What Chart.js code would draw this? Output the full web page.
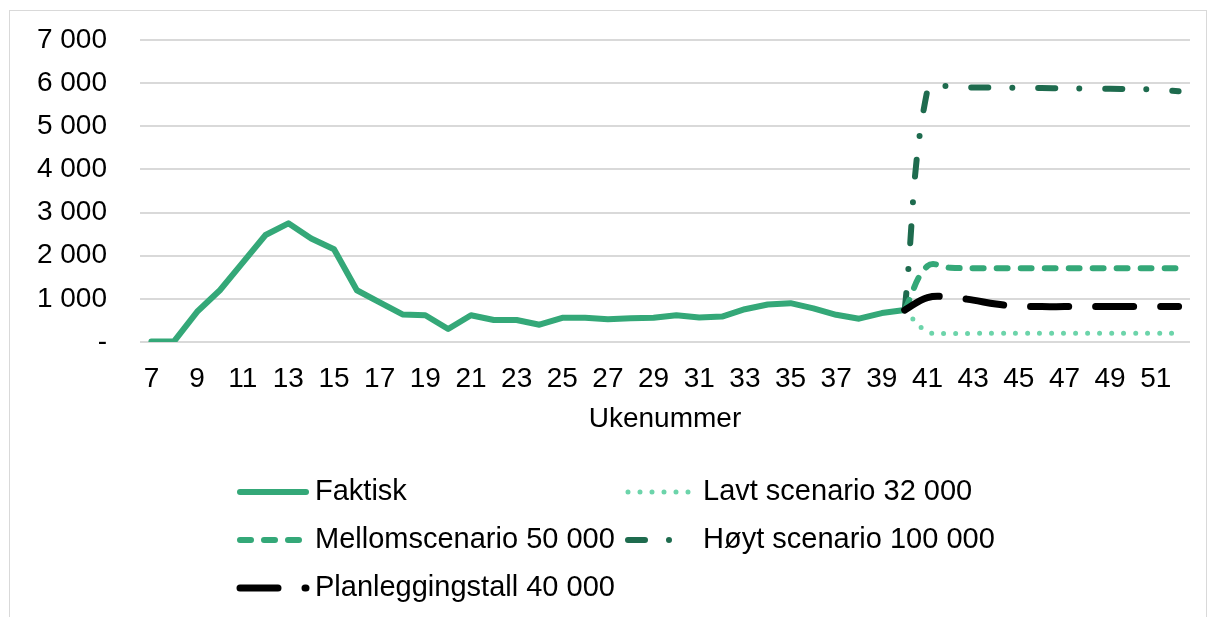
<!DOCTYPE html>
<html>
<head>
<meta charset="utf-8">
<script src="https://cdn.jsdelivr.net/npm/chart.js@4"></script>
<style>
  html, body { margin: 0; padding: 0; background: #fff; }
  #frame { position: absolute; left: 9px; top: 10px; width: 1198px; height: 620px; border: 1.5px solid #d9d9d9; box-sizing: border-box; }
  #wrap { position: absolute; left: 0; top: 0; width: 1210px; height: 617px; }
</style>
</head>
<body>
<div id="frame"></div>
<div id="wrap"><canvas id="chart" width="1210" height="617"></canvas></div>
<script>
// uke 7 - 52
const weeks = ["7","8","9","10","11","12","13","14","15","16","17","18","19","20","21","22","23","24","25","26","27","28","29","30","31","32","33","34","35","36","37","38","39","40","41","42","43","44","45","46","47","48","49","50","51","52"];

// faktisk, uke 7-40
const faktisk = [10, 20, 700, 1200, 1840, 2480, 2750, 2400, 2150, 1200, 920, 640, 620, 300, 620, 510, 510, 400, 560, 560, 530, 550, 560, 620, 570, 590, 760, 870, 900, 780, 630, 540, 670, 740];

// scenarier, uke 40-52
const lavt = [740, 240, 200, 200, 200, 200, 200, 200, 200, 200, 200, 200, 200];
const mellom = [740, 1760, 1720, 1710, 1710, 1710, 1710, 1710, 1710, 1710, 1710, 1710, 1710];
const hoyt = [740, 5850, 5930, 5900, 5900, 5890, 5885, 5880, 5875, 5870, 5860, 5850, 5810];
const planlegging = [740, 1030, 1040, 970, 880, 830, 820, 820, 820, 820, 820, 820, 820];

const yTicks = [0, 1000, 2000, 3000, 4000, 5000, 6000, 7000];

const FONT = "'Liberation Sans', Arial, sans-serif";

// fyll ut med null slik at seriene havner på riktig uke
const padStart = (arr) => Array(weeks.length - arr.length).fill(null).concat(arr);
const padEnd = (arr) => arr.concat(Array(weeks.length - arr.length).fill(null));

const fmt = (v) => v === 0 ? "-" : v.toLocaleString("nb-NO").replace(/\s/g, " ");

// egen legende i to kolonner, tegnet med datasettenes linjestil
const legendSlots = [[240, 492], [628, 492], [240, 540], [628, 540], [240, 588]];
const legendPlugin = {
  id: "gridLegend",
  afterDraw(chart) {
    const ctx = chart.ctx;
    chart.data.datasets.forEach((ds, i) => {
      const [x, y] = legendSlots[i];
      ctx.save();
      ctx.strokeStyle = ds.borderColor;
      ctx.lineWidth = ds.borderWidth;
      ctx.lineCap = "round";
      ctx.setLineDash(ds.borderDash || []);
      ctx.beginPath();
      ctx.moveTo(x, y);
      ctx.lineTo(x + 66, y);
      ctx.stroke();
      ctx.restore();
      ctx.save();
      ctx.fillStyle = "#000";
      ctx.font = "29px " + FONT;
      ctx.textBaseline = "middle";
      ctx.fillText(ds.label, x + 75, y);
      ctx.restore();
    });
  }
};

const ctx = document.getElementById("chart").getContext("2d");
new Chart(ctx, {
  type: "line",
  data: {
    labels: weeks,
    datasets: [
      { label: "Faktisk", data: padEnd(faktisk), borderColor: "#34A878", borderWidth: 6, tension: 0, order: 1 },
      { label: "Lavt scenario 32 000", data: padStart(lavt), borderColor: "#6CD4AA", borderWidth: 5, borderDash: [0, 12], tension: 0.4, order: 1 },
      { label: "Mellomscenario 50 000", data: padStart(mellom), borderColor: "#34A878", borderWidth: 6, borderDash: [11, 13], tension: 0.4, order: 1 },
      { label: "Høyt scenario 100 000", data: padStart(hoyt), borderColor: "#1E6B4E", borderWidth: 6, borderDash: [17, 24, 0, 26], tension: 0.4, order: 1 },
      { label: "Planleggingstall 40 000", data: padStart(planlegging), borderColor: "#000000", borderWidth: 7, borderDash: [38, 27], tension: 0.4, order: 0 }
    ].map(ds => Object.assign({ pointRadius: 0, borderCapStyle: "round", borderJoinStyle: "round", fill: false }, ds))
  },
  options: {
    responsive: false,
    animation: false,
    layout: { padding: { top: 40, right: 20, bottom: 175, left: 0 } },
    plugins: {
      legend: { display: false },
      tooltip: { enabled: false }
    },
    scales: {
      x: {
        offset: true,
        grid: { display: false, drawTicks: false },
        border: { display: false },
        ticks: {
          autoSkip: false,
          maxRotation: 0,
          padding: 20,
          color: "#000",
          font: { family: FONT, size: 28 },
          callback: (val, i) => i % 2 === 0 ? weeks[i] : ""
        },
        title: {
          display: true,
          text: "Ukenummer",
          color: "#000",
          font: { family: FONT, size: 28 },
          padding: { top: 4, bottom: 6 }
        },
        afterFit: (scale) => { scale.height = 100; }
      },
      y: {
        min: 0,
        max: 7000,
        afterBuildTicks: (scale) => { scale.ticks = yTicks.map(v => ({ value: v })); },
        // usynlige tick-streker gir avstanden mellom tall og plott
        grid: { color: "#d9d9d9", lineWidth: 2, drawTicks: true, tickLength: 33, tickColor: "rgba(0,0,0,0)" },
        border: { display: false },
        ticks: {
          padding: 0,
          color: "#000",
          font: { family: FONT, size: 28 },
          callback: (v) => fmt(v)
        },
        afterFit: (scale) => { scale.width = 140; }
      }
    }
  },
  plugins: [legendPlugin]
});
</script>
</body>
</html>
